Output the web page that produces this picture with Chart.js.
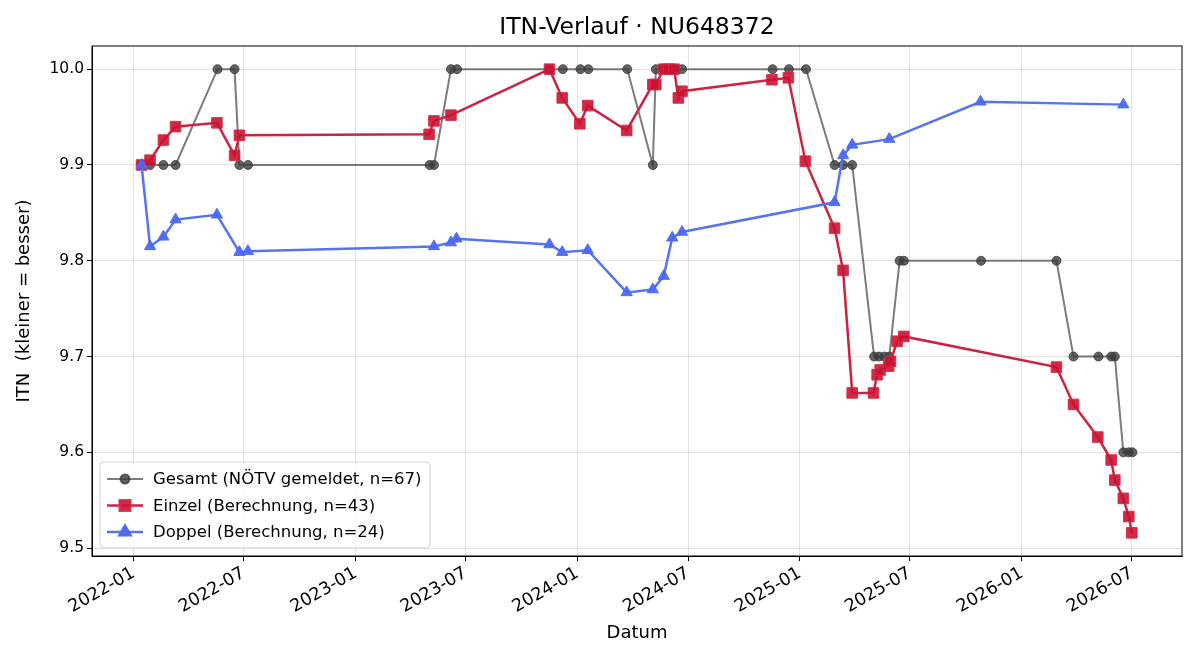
<!DOCTYPE html>
<html>
<head>
<meta charset="utf-8">
<script src="https://cdn.jsdelivr.net/npm/chart.js@4.4.1/dist/chart.umd.min.js"></script>
<style>
  body { margin: 0; background: #fff; }
  #wrap { width: 1200px; height: 660px; }
</style>
</head>
<body>
<div id="wrap"><canvas id="myChart" width="1200" height="660"></canvas></div>
<script>
// Gesamt (NÖTV gemeldet)
var gesamtDates = ['2022-01-14','2022-01-28','2022-02-19','2022-03-11','2022-05-19','2022-06-16','2022-06-24','2022-07-08',
	'2023-05-03','2023-05-10','2023-06-07','2023-06-17','2023-11-16','2023-12-08','2024-01-06','2024-01-19','2024-03-23',
	'2024-05-04','2024-05-09','2024-05-22','2024-05-30','2024-06-08','2024-06-21','2024-11-17','2024-12-14','2025-01-11',
	'2025-02-27','2025-03-13','2025-03-28','2025-05-03','2025-05-11','2025-05-20','2025-05-28','2025-06-14','2025-06-21',
	'2025-10-26','2026-02-27','2026-03-27','2026-05-07','2026-05-28','2026-06-03','2026-06-17','2026-06-26','2026-07-02'];
var gesamtITN = [9.9, 9.9, 9.9, 9.9, 10.0, 10.0, 9.9, 9.9,
	9.9, 9.9, 10.0, 10.0, 10.0, 10.0, 10.0, 10.0, 10.0,
	9.9, 10.0, 10.0, 10.0, 10.0, 10.0, 10.0, 10.0, 10.0,
	9.9, 9.9, 9.9, 9.7, 9.7, 9.7, 9.7, 9.8, 9.8,
	9.8, 9.8, 9.7, 9.7, 9.7, 9.7, 9.6, 9.6, 9.6];

// Einzel (Berechnung)
var einzelDates = ['2022-01-14','2022-01-28','2022-02-19','2022-03-11','2022-05-18','2022-06-16','2022-06-24',
	'2023-05-02','2023-05-10','2023-06-07','2023-11-16','2023-12-07','2024-01-05','2024-01-18','2024-03-22',
	'2024-05-04','2024-05-09','2024-05-22','2024-05-30','2024-06-08','2024-06-15','2024-06-21','2024-11-16','2024-12-13',
	'2025-01-10','2025-02-27','2025-03-13','2025-03-28','2025-05-02','2025-05-08','2025-05-13','2025-05-27','2025-05-30',
	'2025-06-10','2025-06-21','2026-02-27','2026-03-27','2026-05-06','2026-05-28','2026-06-03','2026-06-17','2026-06-26','2026-07-01'];
var einzelITN = [9.900, 9.905, 9.926, 9.940, 9.944, 9.910, 9.931,
	9.932, 9.946, 9.952, 10.000, 9.970, 9.943, 9.962, 9.936,
	9.984, 9.984, 10.000, 10.000, 10.000, 9.970, 9.977, 9.989, 9.991,
	9.904, 9.834, 9.790, 9.662, 9.662, 9.681, 9.686, 9.690, 9.695,
	9.716, 9.721, 9.689, 9.650, 9.616, 9.592, 9.571, 9.552, 9.533, 9.516];

// Doppel (Berechnung)
var doppelDates = ['2022-01-14','2022-01-28','2022-02-19','2022-03-11','2022-05-18','2022-06-24','2022-07-08',
	'2023-05-10','2023-06-07','2023-06-16','2023-11-16','2023-12-07','2024-01-18','2024-03-22','2024-05-04',
	'2024-05-22','2024-06-05','2024-06-21','2025-02-27','2025-03-13','2025-03-28','2025-05-28','2025-10-25','2026-06-17'];
var doppelITN = [9.900, 9.815, 9.825, 9.843, 9.848, 9.809, 9.810,
	9.815, 9.819, 9.823, 9.817, 9.809, 9.811, 9.767, 9.770,
	9.784, 9.824, 9.830, 9.861, 9.910, 9.921, 9.927, 9.966, 9.963];

// x tick labels (month starts)
var tickMonths = ['2022-01','2022-07','2023-01','2023-07','2024-01','2024-07','2025-01','2025-07','2026-01','2026-07'];
var yTicks = [9.5, 9.6, 9.7, 9.8, 9.9, 10.0];
var chartTitle = 'ITN-Verlauf · NU648372';

function toPoints(dates, values){
	var pts = [];
	for(var i = 0; i < dates.length; i++){
		pts.push({x: Date.parse(dates[i] + 'T00:00:00Z'), y: values[i]});
	};
	return pts;
};

var allX = [].concat(gesamtDates, einzelDates, doppelDates).map(function(d){ return Date.parse(d + 'T00:00:00Z'); });
var allY = [].concat(gesamtITN, einzelITN, doppelITN);
var xMin = Math.min.apply(null, allX), xMax = Math.max.apply(null, allX);
var yMin = Math.min.apply(null, allY), yMax = Math.max.apply(null, allY);
var xPad = (xMax - xMin) * 0.05, yPad = (yMax - yMin) * 0.05;

var FONT = '"DejaVu Sans", sans-serif';
Chart.defaults.font.family = FONT;
Chart.defaults.color = '#000';

// full box around the plot (all four spines) + title centred over the plot
var framePlugin = {
	id: 'frame',
	afterDatasetsDraw: function(chart){
		var a = chart.chartArea, c = chart.ctx;
		c.save();
		c.strokeStyle = '#000';
		c.lineWidth = 1;
		c.strokeRect(a.left, a.top, a.right - a.left, a.bottom - a.top);
		c.fillStyle = '#000';
		c.font = '23.5px ' + FONT;
		c.textAlign = 'center';
		c.textBaseline = 'middle';
		c.fillText(chartTitle, (a.left + a.right) / 2, 28);
		c.restore();
	}
};

// legend box in the lower left corner of the plot
var legendPlugin = {
	id: 'cornerLegend',
	afterDraw: function(chart){
		var a = chart.chartArea, c = chart.ctx;
		var ds = chart.data.datasets;
		var bx = a.left + 8, bw = 330, bh = 86, by = a.bottom - 8 - bh;
		c.save();
		c.fillStyle = 'rgba(255,255,255,0.8)';
		c.strokeStyle = '#d5d5d5';
		c.lineWidth = 1;
		c.beginPath();
		c.roundRect(bx, by, bw, bh, 4);
		c.fill();
		c.stroke();
		for(var i = 0; i < ds.length; i++){
			var y = by + 17 + i * 26.5;
			c.strokeStyle = ds[i].borderColor;
			c.lineWidth = ds[i].borderWidth;
			c.beginPath();
			c.moveTo(bx + 7, y);
			c.lineTo(bx + 43, y);
			c.stroke();
			c.fillStyle = ds[i].pointBackgroundColor;
			c.strokeStyle = ds[i].pointBorderColor;
			Chart.helpers.drawPoint(c, {pointStyle: ds[i].pointStyle, radius: ds[i].pointRadius, rotation: 0, borderWidth: 1}, bx + 25, y);
			c.fillStyle = '#000';
			c.font = '16.5px ' + FONT;
			c.textBaseline = 'middle';
			c.textAlign = 'left';
			c.fillText(ds[i].label, bx + 53, y + 1);
		};
		c.restore();
	}
};

var Data = {
	datasets: [{
		label: 'Gesamt (NÖTV gemeldet, n=67)',
		data: toPoints(gesamtDates, gesamtITN),
		borderColor: 'rgba(80,80,80,0.75)',
		borderWidth: 2,
		pointStyle: 'circle',
		pointRadius: 4.5,
		pointBackgroundColor: 'rgba(60,60,60,0.8)',
		pointBorderColor: 'rgba(60,60,60,0.8)',
		pointBorderWidth: 1,
		order: 3
	}, {
		label: 'Einzel (Berechnung, n=43)',
		data: toPoints(einzelDates, einzelITN),
		borderColor: '#cc2340',
		borderWidth: 2.5,
		pointStyle: 'rect',
		pointRadius: 7.5,
		pointBackgroundColor: 'rgba(200,20,50,0.9)',
		pointBorderColor: 'rgba(220,40,70,0.9)',
		pointBorderWidth: 1,
		order: 2
	}, {
		label: 'Doppel (Berechnung, n=24)',
		data: toPoints(doppelDates, doppelITN),
		borderColor: '#5574f2',
		borderWidth: 2.5,
		pointStyle: 'triangle',
		pointRadius: 6.5,
		pointBackgroundColor: 'rgba(75,105,240,0.95)',
		pointBorderColor: 'rgba(75,105,240,0.95)',
		pointBorderWidth: 1,
		order: 1
	}]
};

new Chart(document.getElementById('myChart'), {
	type: 'line',
	data: Data,
	plugins: [framePlugin, legendPlugin],
	options: {
		responsive: false,
		animation: false,
		layout: { padding: { left: 0, right: 18, top: 46, bottom: 0 } },
		elements: { line: { tension: 0 } },
		plugins: {
			legend: { display: false },
			tooltip: { enabled: false },
			title: { display: false }
		},
		scales: {
			x: {
				type: 'linear',
				min: xMin - xPad,
				max: xMax + xPad,
				afterBuildTicks: function(scale){
					scale.ticks = tickMonths.map(function(m){ return {value: Date.parse(m + '-01T00:00:00Z')}; });
				},
				afterFit: function(scale){ scale.height = 104; },
				ticks: {
					autoSkip: false,
					minRotation: 30,
					maxRotation: 30,
					padding: 2,
					font: { size: 17.5 },
					callback: function(v){
						var d = new Date(v);
						var m = d.getUTCMonth() + 1;
						return d.getUTCFullYear() + '-' + (m < 10 ? '0' + m : m);
					}
				},
				grid: { color: 'rgba(176,176,176,0.35)', tickColor: '#000', tickLength: 5 },
				border: { color: '#000' },
				title: { display: true, text: 'Datum', font: { size: 18 }, padding: { top: 0, bottom: 16 } }
			},
			y: {
				min: yMin - yPad,
				max: yMax + yPad,
				afterBuildTicks: function(scale){
					scale.ticks = yTicks.map(function(v){ return {value: v}; });
				},
				afterFit: function(scale){ scale.width = 92; },
				ticks: {
					padding: 3,
					font: { size: 15.5 },
					callback: function(v){ return v.toFixed(1); }
				},
				grid: { color: 'rgba(176,176,176,0.35)', tickColor: '#000', tickLength: 5 },
				border: { color: '#000' },
				title: { display: true, text: 'ITN  (kleiner = besser)', font: { size: 18 }, padding: { top: 14, bottom: 4 } }
			}
		}
	}
});
</script>
</body>
</html>
